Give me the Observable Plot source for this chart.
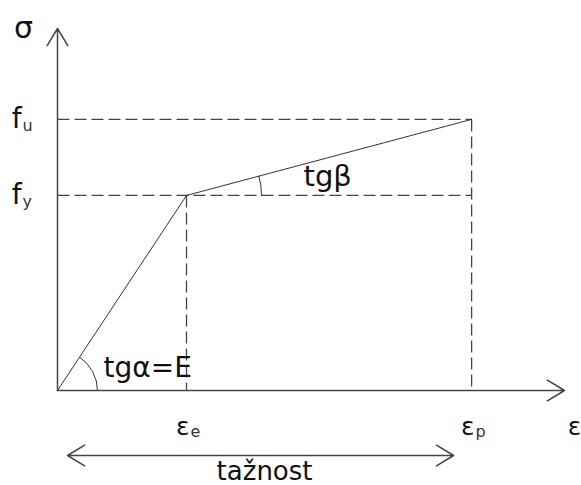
<!DOCTYPE html>
<html><head><meta charset="utf-8">
<script src="https://cdn.jsdelivr.net/npm/d3@7"></script>
<script src="https://cdn.jsdelivr.net/npm/@observablehq/plot@0.6"></script>
<style>body{margin:0;background:#fff}</style>
</head><body><div id="chart"></div>
<script>
// Data (normalized: ε_e = 1, f_y = 1)
const strainValues = [0, 1, 3.21];     // origin, ε_e, ε_p
const stressValues = [0, 1, 1.39];     // origin, f_y, f_u
const strainTickNames = ["ε", "ε"];
const strainTickSubs = ["e", "p"];
const stressTickNames = ["f", "f"];
const stressTickSubs = ["y", "u"];
const axisNames = ["σ", "ε"];
const slopeLabels = ["tgα=E", "tgβ"];
const rangeLabel = "tažnost";
const xMax = 3.93, yMax = 1.856;

const W = 581, H = 485, ML = 57, MR = 17, MT = 28, MB = 95;
const kx = (W - ML - MR) / xMax, ky = (H - MT - MB) / yMax;

const pts = strainValues.map((x, i) => ({x, y: stressValues[i]}));
const [O, Yp, Up] = pts;
const xTicks = strainTickNames.map((n, i) => ({x: strainValues[i + 1], y: stressValues[i + 1], name: n, sub: strainTickSubs[i]}));
const yTicks = stressTickNames.map((n, i) => ({x: strainValues[i + 1], y: stressValues[i + 1], name: n, sub: stressTickSubs[i]}));
const epsP = strainValues[2];

// arc helpers (pixel radius -> data endpoints)
function arcEnds(c, p, rpx) {
  const L = Math.hypot((p.x - c.x) * kx, (p.y - c.y) * ky);
  const t = rpx / L;
  const ang = Math.atan2((p.y - c.y) * ky, (p.x - c.x) * kx);
  return {x1: c.x + rpx / kx, y1: c.y, x2: c.x + t * (p.x - c.x), y2: c.y + t * (p.y - c.y), bend: ang * 180 / Math.PI / 2};
}
const arcA = arcEnds(O, Yp, 40);
const arcB = arcEnds(Yp, Up, 75);

const font = "DejaVu Sans, Verdana, sans-serif";
const dark = "#444";

const chart = Plot.plot({
  width: W, height: H,
  marginLeft: ML, marginRight: MR, marginTop: MT, marginBottom: MB,
  x: {domain: [0, xMax], axis: null},
  y: {domain: [0, yMax], axis: null},
  style: {fontFamily: font, background: "#fff"},
  marks: [
    // dashed guides: horizontals
    Plot.link(yTicks, {x1: 0, y1: "y", x2: epsP, y2: "y", stroke: dark, strokeWidth: 1.3, strokeDasharray: "12,5"}),
    // dashed guides: verticals
    Plot.link(xTicks, {x1: "x", y1: "y", x2: "x", y2: 0, stroke: dark, strokeWidth: 1.3, strokeDasharray: "12,5"}),
    // stress-strain curve
    Plot.line(pts, {x: "x", y: "y", stroke: "#333", strokeWidth: 1}),
    // axes
    Plot.arrow([{x1: 0, y1: 0, x2: xMax, y2: 0}, {x1: 0, y1: 0, x2: 0, y2: yMax}],
      {x1: "x1", y1: "y1", x2: "x2", y2: "y2", stroke: dark, strokeWidth: 1.5, headLength: 20, headAngle: 62}),
    // angle arcs
    Plot.arrow([arcA], {x1: "x1", y1: "y1", x2: "x2", y2: "y2", bend: -arcA.bend, headLength: 0, stroke: "#333", strokeWidth: 1}),
    Plot.arrow([arcB], {x1: "x1", y1: "y1", x2: "x2", y2: "y2", bend: -arcB.bend, headLength: 0, stroke: "#333", strokeWidth: 1}),
    // tažnost double arrow
    Plot.arrow([{x1: epsP / 2, x2: 0}],
      {x1: "x1", x2: "x2", y1: 0, y2: 0, dy: 65, insetEnd: 10, stroke: dark, strokeWidth: 1.5, headLength: 20, headAngle: 62}),
    Plot.arrow([{x1: epsP / 2, x2: epsP}],
      {x1: "x1", x2: "x2", y1: 0, y2: 0, dy: 65, insetEnd: 18, stroke: dark, strokeWidth: 1.5, headLength: 20, headAngle: 62}),
    // x tick labels
    Plot.text(xTicks, {x: "x", y: 0, text: "name", textAnchor: "end", dx: 3, dy: 36, fontSize: 25, fill: "#111"}),
    Plot.text(xTicks, {x: "x", y: 0, text: "sub", textAnchor: "start", dx: 4, dy: 41, fontSize: 16, fill: "#333"}),
    // y tick labels
    Plot.text(yTicks, {x: 0, y: "y", text: "name", textAnchor: "end", dx: -36, dy: 0, fontSize: 28, fill: "#111"}),
    Plot.text(yTicks, {x: 0, y: "y", text: "sub", textAnchor: "start", dx: -35, dy: 6, fontSize: 16, fill: "#333"}),
    // axis names
    Plot.text([axisNames[0]], {x: 0, y: yMax, text: d => d, dx: -34, dy: 0, fontSize: 30, fill: "#111"}),
    Plot.text([axisNames[1]], {x: xMax, y: 0, text: d => d, dx: 10, dy: 36, fontSize: 25, fill: "#111"}),
    // slope labels
    Plot.text([slopeLabels[0]], {x: 0, y: 0, text: d => d, textAnchor: "start", dx: 46, dy: -22, fontSize: 28, fill: "#111"}),
    Plot.text([slopeLabels[1]], {x: Yp.x, y: Yp.y, text: d => d, textAnchor: "start", dx: 117, dy: -19, fontSize: 29, fill: "#111"}),
    // tažnost
    Plot.text([rangeLabel], {x: epsP / 2, y: 0, text: d => d, dy: 81, fontSize: 26, fill: "#111"})
  ]
});
document.getElementById("chart").append(chart);
</script>
</body></html>
